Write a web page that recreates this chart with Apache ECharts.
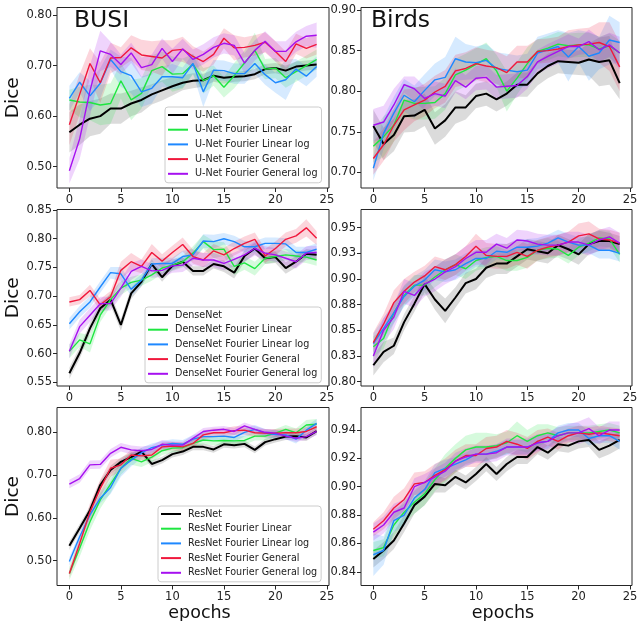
<!DOCTYPE html>
<html>
<head>
<meta charset="utf-8">
<script src="https://cdn.jsdelivr.net/npm/echarts@6/dist/echarts.min.js"></script>
<style>
  html, body { margin: 0; padding: 0; background: #ffffff; }
  #chart { width: 638px; height: 621px; }
</style>
</head>
<body>
<div id="chart"></div>
<script>
// ---- training curves: mean Dice per epoch and the spread (half-width) of each band ----
const epochs = [0,1,2,3,4,5,6,7,8,9,10,11,12,13,14,15,16,17,18,19,20,21,22,23,24];

// BUSI / U-Net
const busiUNet       = [0.568,0.583,0.595,0.600,0.615,0.615,0.625,0.632,0.643,0.651,0.659,0.666,0.670,0.671,0.680,0.676,0.678,0.679,0.683,0.693,0.695,0.690,0.698,0.700,0.702];
const busiUNetLin    = [0.632,0.628,0.627,0.622,0.625,0.670,0.632,0.645,0.690,0.698,0.683,0.684,0.703,0.670,0.680,0.657,0.680,0.705,0.730,0.693,0.695,0.676,0.688,0.700,0.712];
const busiUNetLinLog = [0.635,0.667,0.640,0.665,0.712,0.688,0.680,0.648,0.655,0.678,0.678,0.676,0.704,0.648,0.691,0.690,0.684,0.684,0.704,0.682,0.666,0.672,0.693,0.679,0.698];
const busiUNetGen    = [0.583,0.643,0.704,0.666,0.715,0.716,0.735,0.721,0.718,0.715,0.730,0.732,0.718,0.708,0.722,0.754,0.735,0.736,0.740,0.746,0.728,0.708,0.743,0.734,0.742];
const busiUNetGenLog = [0.492,0.555,0.650,0.729,0.722,0.702,0.725,0.696,0.702,0.734,0.708,0.733,0.712,0.722,0.736,0.744,0.740,0.705,0.730,0.748,0.728,0.728,0.747,0.758,0.760];
const busiUNetSd       = [0.040,0.040,0.035,0.035,0.030,0.030,0.025,0.025,0.020,0.020,0.018,0.015,0.015,0.013,0.012,0.012,0.010,0.010,0.010,0.010,0.010,0.010,0.010,0.010,0.010];
const busiUNetLinSd    = [0.020,0.030,0.035,0.040,0.040,0.035,0.040,0.030,0.030,0.030,0.035,0.030,0.020,0.025,0.020,0.020,0.025,0.025,0.035,0.020,0.020,0.020,0.020,0.020,0.020];
const busiUNetLinLogSd = [0.025,0.020,0.030,0.030,0.020,0.030,0.035,0.030,0.030,0.020,0.025,0.020,0.020,0.030,0.020,0.020,0.020,0.020,0.020,0.020,0.020,0.040,0.020,0.020,0.020];
const busiUNetGenSd    = [0.040,0.040,0.030,0.040,0.030,0.020,0.025,0.030,0.030,0.035,0.020,0.025,0.020,0.020,0.020,0.020,0.025,0.020,0.020,0.020,0.020,0.020,0.020,0.020,0.020];
const busiUNetGenLogSd = [0.025,0.040,0.050,0.040,0.025,0.020,0.020,0.020,0.020,0.020,0.025,0.020,0.020,0.020,0.020,0.020,0.020,0.020,0.020,0.020,0.020,0.020,0.020,0.020,0.025];

// Birds / U-Net
const birdsUNet       = [0.757,0.735,0.746,0.769,0.770,0.777,0.754,0.764,0.780,0.780,0.794,0.797,0.790,0.797,0.808,0.808,0.822,0.831,0.837,0.836,0.835,0.839,0.836,0.838,0.810];
const birdsUNetLin    = [0.732,0.744,0.758,0.789,0.785,0.785,0.786,0.797,0.820,0.826,0.833,0.840,0.825,0.800,0.816,0.834,0.849,0.853,0.858,0.856,0.857,0.857,0.852,0.856,0.847];
const birdsUNetLinLog = [0.705,0.748,0.773,0.795,0.787,0.801,0.814,0.817,0.840,0.836,0.835,0.838,0.828,0.826,0.824,0.826,0.847,0.851,0.855,0.842,0.855,0.843,0.847,0.863,0.860];
const birdsUNetGen    = [0.717,0.734,0.758,0.777,0.783,0.789,0.799,0.806,0.825,0.828,0.834,0.831,0.829,0.823,0.836,0.836,0.849,0.850,0.852,0.855,0.857,0.858,0.860,0.855,0.830];
const birdsUNetGenLog = [0.758,0.762,0.783,0.808,0.803,0.791,0.797,0.794,0.813,0.805,0.816,0.817,0.805,0.806,0.807,0.818,0.836,0.843,0.849,0.855,0.855,0.861,0.851,0.857,0.847];
const birdsUNetSd       = [0.020,0.020,0.020,0.020,0.020,0.020,0.020,0.020,0.020,0.015,0.015,0.015,0.015,0.015,0.015,0.015,0.015,0.015,0.015,0.015,0.015,0.020,0.030,0.030,0.020];
const birdsUNetLinSd    = [0.020,0.025,0.020,0.020,0.020,0.020,0.020,0.020,0.020,0.020,0.020,0.020,0.020,0.025,0.020,0.020,0.015,0.015,0.015,0.015,0.015,0.015,0.015,0.015,0.015];
const birdsUNetLinLogSd = [0.015,0.020,0.020,0.020,0.020,0.020,0.020,0.025,0.027,0.022,0.020,0.020,0.020,0.020,0.020,0.020,0.020,0.020,0.020,0.030,0.020,0.030,0.020,0.030,0.025];
const birdsUNetGenSd    = [0.020,0.020,0.020,0.025,0.020,0.020,0.020,0.020,0.020,0.020,0.020,0.020,0.020,0.020,0.020,0.020,0.015,0.015,0.015,0.020,0.020,0.020,0.025,0.030,0.030];
const birdsUNetGenLogSd = [0.020,0.020,0.020,0.010,0.015,0.015,0.015,0.015,0.015,0.015,0.015,0.015,0.015,0.015,0.015,0.015,0.015,0.015,0.015,0.015,0.010,0.015,0.015,0.015,0.020];

// BUSI / DenseNet
const busiDense       = [0.566,0.601,0.644,0.679,0.694,0.650,0.705,0.725,0.756,0.733,0.753,0.760,0.744,0.744,0.756,0.752,0.741,0.770,0.783,0.766,0.768,0.749,0.760,0.774,0.772];
const busiDenseLin    = [0.604,0.624,0.617,0.667,0.694,0.714,0.724,0.728,0.737,0.749,0.754,0.760,0.775,0.795,0.781,0.782,0.752,0.758,0.748,0.766,0.769,0.772,0.770,0.768,0.763];
const busiDenseLinLog = [0.652,0.673,0.690,0.716,0.741,0.739,0.712,0.728,0.756,0.757,0.757,0.769,0.772,0.796,0.795,0.800,0.795,0.786,0.786,0.792,0.792,0.791,0.776,0.776,0.782];
const busiDenseGen    = [0.690,0.694,0.710,0.685,0.699,0.745,0.760,0.752,0.776,0.761,0.776,0.790,0.769,0.763,0.779,0.772,0.783,0.792,0.799,0.770,0.783,0.799,0.805,0.819,0.801];
const busiDenseGenLog = [0.604,0.647,0.667,0.687,0.687,0.714,0.743,0.752,0.744,0.745,0.753,0.754,0.766,0.763,0.763,0.757,0.764,0.772,0.783,0.775,0.772,0.766,0.760,0.775,0.776];
const busiDenseSd       = [0.010,0.010,0.010,0.010,0.010,0.010,0.010,0.008,0.008,0.008,0.008,0.008,0.008,0.008,0.008,0.010,0.010,0.010,0.010,0.010,0.010,0.010,0.010,0.008,0.008];
const busiDenseLinSd    = [0.012,0.012,0.015,0.012,0.012,0.012,0.010,0.010,0.010,0.010,0.010,0.010,0.012,0.012,0.015,0.012,0.015,0.012,0.012,0.010,0.010,0.010,0.010,0.010,0.010];
const busiDenseLinLogSd = [0.010,0.010,0.010,0.010,0.010,0.012,0.012,0.010,0.010,0.010,0.010,0.010,0.010,0.012,0.012,0.010,0.010,0.010,0.010,0.010,0.010,0.010,0.010,0.010,0.010];
const busiDenseGenSd    = [0.008,0.008,0.010,0.010,0.010,0.015,0.015,0.012,0.015,0.012,0.012,0.012,0.012,0.012,0.012,0.012,0.012,0.012,0.012,0.012,0.012,0.012,0.012,0.015,0.012];
const busiDenseGenLogSd = [0.012,0.012,0.012,0.012,0.012,0.015,0.015,0.012,0.012,0.012,0.012,0.012,0.012,0.012,0.012,0.012,0.012,0.012,0.012,0.012,0.012,0.012,0.012,0.012,0.012];

// Birds / DenseNet
const birdsDense       = [0.816,0.829,0.835,0.858,0.876,0.895,0.880,0.869,0.882,0.896,0.900,0.911,0.915,0.915,0.922,0.929,0.927,0.925,0.933,0.929,0.924,0.934,0.937,0.937,0.934];
const birdsDenseLin    = [0.834,0.842,0.867,0.884,0.894,0.894,0.902,0.909,0.914,0.910,0.918,0.921,0.922,0.918,0.918,0.921,0.928,0.930,0.929,0.923,0.931,0.935,0.940,0.939,0.924];
const birdsDenseLinLog = [0.837,0.852,0.867,0.883,0.893,0.899,0.909,0.907,0.909,0.915,0.920,0.920,0.927,0.926,0.931,0.931,0.932,0.935,0.940,0.936,0.933,0.933,0.928,0.928,0.925];
const birdsDenseGen    = [0.838,0.856,0.877,0.888,0.897,0.903,0.912,0.909,0.914,0.922,0.932,0.923,0.922,0.922,0.926,0.922,0.928,0.931,0.933,0.936,0.942,0.944,0.939,0.938,0.935];
const birdsDenseGenLog = [0.825,0.850,0.863,0.888,0.884,0.895,0.900,0.907,0.912,0.920,0.926,0.926,0.934,0.930,0.938,0.937,0.934,0.933,0.933,0.936,0.936,0.933,0.938,0.941,0.935];
const birdsDenseSd       = [0.010,0.010,0.008,0.008,0.008,0.008,0.010,0.012,0.010,0.010,0.010,0.010,0.010,0.010,0.010,0.010,0.010,0.010,0.010,0.010,0.010,0.010,0.010,0.008,0.008];
const birdsDenseLinSd    = [0.010,0.010,0.010,0.010,0.010,0.010,0.010,0.010,0.010,0.010,0.010,0.010,0.010,0.010,0.010,0.010,0.010,0.010,0.008,0.008,0.008,0.008,0.008,0.008,0.008];
const birdsDenseLinLogSd = [0.010,0.010,0.010,0.010,0.010,0.010,0.010,0.010,0.010,0.010,0.008,0.008,0.008,0.008,0.008,0.008,0.008,0.008,0.008,0.008,0.008,0.008,0.008,0.008,0.008];
const birdsDenseGenSd    = [0.010,0.010,0.012,0.012,0.010,0.010,0.010,0.010,0.010,0.010,0.012,0.012,0.012,0.012,0.012,0.012,0.010,0.010,0.010,0.010,0.012,0.012,0.010,0.010,0.010];
const birdsDenseGenLogSd = [0.012,0.012,0.012,0.012,0.012,0.012,0.012,0.012,0.012,0.012,0.012,0.012,0.010,0.010,0.010,0.010,0.010,0.010,0.010,0.010,0.010,0.010,0.010,0.010,0.010];

// BUSI / ResNet
const busiRes       = [0.535,0.576,0.618,0.677,0.712,0.731,0.742,0.755,0.726,0.735,0.749,0.755,0.766,0.766,0.760,0.772,0.770,0.773,0.759,0.777,0.784,0.790,0.791,0.788,0.803];
const busiResLin    = [0.470,0.529,0.591,0.642,0.679,0.716,0.739,0.731,0.742,0.757,0.763,0.764,0.774,0.782,0.780,0.781,0.780,0.781,0.791,0.791,0.798,0.807,0.799,0.817,0.819];
const busiResLinLog = [0.498,0.556,0.607,0.646,0.671,0.716,0.735,0.752,0.764,0.770,0.774,0.772,0.784,0.790,0.790,0.791,0.788,0.800,0.807,0.798,0.795,0.794,0.784,0.805,0.821];
const busiResGen    = [0.470,0.540,0.614,0.669,0.716,0.724,0.747,0.745,0.747,0.766,0.768,0.766,0.774,0.794,0.799,0.799,0.804,0.805,0.799,0.798,0.798,0.799,0.799,0.802,0.813];
const busiResGenLog = [0.679,0.692,0.724,0.725,0.751,0.765,0.759,0.757,0.760,0.772,0.770,0.770,0.786,0.802,0.805,0.807,0.802,0.815,0.807,0.800,0.798,0.791,0.786,0.790,0.802];
const busiResSd       = [0.010,0.010,0.010,0.010,0.010,0.010,0.010,0.008,0.008,0.008,0.008,0.008,0.008,0.008,0.008,0.008,0.008,0.008,0.008,0.008,0.008,0.008,0.008,0.008,0.008];
const busiResLinSd    = [0.015,0.020,0.020,0.020,0.020,0.015,0.015,0.012,0.012,0.010,0.010,0.010,0.010,0.010,0.010,0.010,0.010,0.010,0.010,0.010,0.010,0.010,0.010,0.012,0.012];
const busiResLinLogSd = [0.010,0.010,0.010,0.012,0.015,0.020,0.015,0.012,0.010,0.010,0.010,0.010,0.010,0.010,0.010,0.010,0.010,0.010,0.010,0.010,0.010,0.010,0.010,0.010,0.010];
const busiResGenSd    = [0.010,0.015,0.020,0.020,0.020,0.015,0.012,0.010,0.010,0.010,0.010,0.010,0.010,0.010,0.010,0.010,0.010,0.010,0.010,0.010,0.010,0.010,0.010,0.010,0.010];
const busiResGenLogSd = [0.010,0.010,0.010,0.010,0.010,0.010,0.010,0.010,0.010,0.010,0.008,0.008,0.008,0.008,0.008,0.008,0.008,0.008,0.008,0.008,0.008,0.008,0.008,0.008,0.008];

// Birds / ResNet
const birdsRes       = [0.849,0.855,0.862,0.874,0.887,0.893,0.902,0.901,0.907,0.903,0.909,0.916,0.909,0.916,0.921,0.921,0.928,0.924,0.930,0.929,0.932,0.933,0.926,0.929,0.933];
const birdsResLin    = [0.855,0.857,0.873,0.882,0.889,0.895,0.905,0.913,0.920,0.926,0.928,0.928,0.929,0.931,0.936,0.932,0.936,0.938,0.936,0.938,0.938,0.938,0.939,0.940,0.938];
const birdsResLinLog = [0.852,0.855,0.876,0.880,0.892,0.898,0.910,0.913,0.916,0.919,0.923,0.923,0.925,0.928,0.928,0.928,0.931,0.932,0.938,0.940,0.940,0.934,0.936,0.936,0.932];
const birdsResGen    = [0.870,0.876,0.885,0.891,0.902,0.903,0.908,0.912,0.918,0.922,0.922,0.927,0.928,0.932,0.930,0.927,0.932,0.935,0.932,0.936,0.938,0.937,0.938,0.937,0.936];
const birdsResGenLog = [0.868,0.873,0.882,0.885,0.900,0.903,0.907,0.911,0.918,0.921,0.923,0.923,0.924,0.928,0.928,0.928,0.931,0.932,0.936,0.938,0.938,0.941,0.936,0.940,0.940];
const birdsResSd       = [0.006,0.006,0.006,0.006,0.006,0.006,0.006,0.005,0.005,0.005,0.005,0.005,0.005,0.005,0.005,0.005,0.005,0.005,0.005,0.005,0.005,0.005,0.006,0.006,0.006];
const birdsResLinSd    = [0.006,0.006,0.008,0.008,0.008,0.008,0.008,0.010,0.010,0.010,0.010,0.010,0.008,0.008,0.010,0.008,0.008,0.006,0.006,0.005,0.005,0.005,0.005,0.005,0.005];
const birdsResLinLogSd = [0.015,0.010,0.008,0.008,0.006,0.006,0.006,0.006,0.005,0.005,0.005,0.005,0.005,0.005,0.005,0.005,0.005,0.005,0.005,0.005,0.005,0.005,0.005,0.005,0.006];
const birdsResGenSd    = [0.005,0.006,0.008,0.008,0.008,0.008,0.008,0.008,0.008,0.008,0.008,0.008,0.008,0.008,0.008,0.008,0.008,0.006,0.006,0.005,0.005,0.005,0.005,0.005,0.005];
const birdsResGenLogSd = [0.006,0.006,0.006,0.006,0.006,0.006,0.006,0.006,0.006,0.006,0.006,0.006,0.006,0.006,0.006,0.006,0.006,0.006,0.006,0.006,0.008,0.008,0.006,0.006,0.006];

// legend names
const unetNames  = ['U-Net', 'U-Net Fourier Linear', 'U-Net Fourier Linear log', 'U-Net Fourier General', 'U-Net Fourier General log'];
const denseNames = ['DenseNet', 'DenseNet Fourier Linear', 'DenseNet Fourier Linear log', 'DenseNet Fourier General', 'DenseNet Fourier General log'];
const resNames   = ['ResNet', 'ResNet Fourier Linear', 'ResNet Fourier Linear log', 'ResNet Fourier General', 'ResNet Fourier General log'];

// axis ticks
const xTicks = [0, 5, 10, 15, 20, 25];
const busiUNetTicks   = [0.50, 0.60, 0.70, 0.80];
const birdsUNetTicks  = [0.70, 0.75, 0.80, 0.85, 0.90];
const busiDenseTicks  = [0.55, 0.60, 0.65, 0.70, 0.75, 0.80, 0.85];
const birdsDenseTicks = [0.800, 0.825, 0.850, 0.875, 0.900, 0.925, 0.950];
const birdsDenseTickLabels = ['0.80', '0.83', '0.85', '0.88', '0.90', '0.93', '0.95'];
const busiResTicks    = [0.50, 0.60, 0.70, 0.80];
const birdsResTicks   = [0.84, 0.86, 0.88, 0.90, 0.92, 0.94];

// ---- layout / style ----
const lineColors = ['#000000', '#1ee640', '#1e88ff', '#f0183c', '#a610f0'];
const lineWidths = [2, 1.4, 1.4, 1.4, 1.4];
const bandOpacity = [0.14, 0.18, 0.18, 0.18, 0.18];
const colLeft = [57, 361], colWidth = [272, 271];
const rowTop = [7.5, 209.5, 407.5], rowHeight = [180.5, 176.5, 178];
const FONT = 'DejaVu Sans';

const panels = [
  { row: 0, col: 0, means: [busiUNet, busiUNetLin, busiUNetLinLog, busiUNetGen, busiUNetGenLog],
    sds: [busiUNetSd, busiUNetLinSd, busiUNetLinLogSd, busiUNetGenSd, busiUNetGenLogSd],
    names: unetNames, yMin: 0.4579, yMax: 0.8148, ticks: busiUNetTicks, title: 'BUSI',
    legend: { left: 165, top: 107 } },
  { row: 0, col: 1, means: [birdsUNet, birdsUNetLin, birdsUNetLinLog, birdsUNetGen, birdsUNetGenLog],
    sds: [birdsUNetSd, birdsUNetLinSd, birdsUNetLinLogSd, birdsUNetGenSd, birdsUNetGenLogSd],
    names: unetNames.map(n => n + ' (Birds)'), yMin: 0.6807, yMax: 0.9031, ticks: birdsUNetTicks, title: 'Birds' },
  { row: 1, col: 0, means: [busiDense, busiDenseLin, busiDenseLinLog, busiDenseGen, busiDenseGenLog],
    sds: [busiDenseSd, busiDenseLinSd, busiDenseLinLogSd, busiDenseGenSd, busiDenseGenLogSd],
    names: denseNames, yMin: 0.5437, yMax: 0.8509, ticks: busiDenseTicks,
    legend: { left: 145, top: 307 } },
  { row: 1, col: 1, means: [birdsDense, birdsDenseLin, birdsDenseLinLog, birdsDenseGen, birdsDenseGenLog],
    sds: [birdsDenseSd, birdsDenseLinSd, birdsDenseLinLogSd, birdsDenseGenSd, birdsDenseGenLogSd],
    names: denseNames.map(n => n + ' (Birds)'), yMin: 0.7958, yMax: 0.9677, ticks: birdsDenseTicks,
    tickLabels: birdsDenseTickLabels },
  { row: 2, col: 0, means: [busiRes, busiResLin, busiResLinLog, busiResGen, busiResGenLog],
    sds: [busiResSd, busiResLinSd, busiResLinLogSd, busiResGenSd, busiResGenLogSd],
    names: resNames, yMin: 0.442, yMax: 0.858, ticks: busiResTicks,
    legend: { left: 158, top: 506 } },
  { row: 2, col: 1, means: [birdsRes, birdsResLin, birdsResLinLog, birdsResGen, birdsResGenLog],
    sds: [birdsResSd, birdsResLinSd, birdsResLinLogSd, birdsResGenSd, birdsResGenLogSd],
    names: resNames.map(n => n + ' (Birds)'), yMin: 0.8303, yMax: 0.9559, ticks: birdsResTicks }
];

const grids = [], xAxes = [], yAxes = [], series = [], legends = [], titles = [];

panels.forEach((p, gi) => {
  grids.push({
    left: colLeft[p.col], top: rowTop[p.row], width: colWidth[p.col], height: rowHeight[p.row],
    show: true, borderColor: '#262626', borderWidth: 1, backgroundColor: 'transparent',
    outerBoundsMode: 'none', containLabel: false
  });
  xAxes.push({
    type: 'value', gridIndex: gi, min: -1.2, max: 25.2,
    axisLine: { show: false, onZero: false },
    axisTick: { show: true, length: 4, lineStyle: { color: '#262626' }, customValues: xTicks },
    axisLabel: { show: true, margin: 6, color: '#222', fontFamily: FONT, fontSize: 11.5, customValues: xTicks },
    splitLine: { show: false },
    name: p.row === 2 ? 'epochs' : '', nameLocation: 'middle', nameGap: 14,
    nameTextStyle: { fontFamily: FONT, fontSize: 17.5, color: '#111', padding: [0, 0, 0, 13], verticalAlign: 'top' }
  });
  const tl = p.tickLabels;
  yAxes.push({
    type: 'value', gridIndex: gi, min: p.yMin, max: p.yMax, scale: true,
    axisLine: { show: false, onZero: false },
    axisTick: { show: true, length: 4, lineStyle: { color: '#262626' }, customValues: p.ticks },
    axisLabel: {
      show: true, margin: 5, color: '#222', fontFamily: FONT, fontSize: 11.5, customValues: p.ticks,
      formatter: v => {
        if (tl) {
          let best = 0;
          p.ticks.forEach((t, i) => { if (Math.abs(t - v) < Math.abs(p.ticks[best] - v)) best = i; });
          return tl[best];
        }
        return v.toFixed(2);
      }
    },
    splitLine: { show: false },
    name: p.col === 0 ? 'Dice' : '', nameLocation: 'middle', nameGap: 33,
    nameTextStyle: { fontFamily: FONT, fontSize: 18.5, color: '#111' }
  });

  // shaded spread bands, drawn as one polygon per curve in data coordinates
  p.means.forEach((m, si) => {
    const sd = p.sds[si];
    const bandData = epochs.map((e, i) => [e, m[i] - sd[i], m[i] + sd[i]]);
    series.push({
      type: 'custom', name: p.names[si] + ' band', xAxisIndex: gi, yAxisIndex: gi,
      data: bandData, encode: { x: 0, y: [1, 2] }, z: 1, silent: true,
      renderItem: (params, api) => {
        if (params.dataIndex !== 0) return null;
        const pts = [];
        for (let i = 0; i < bandData.length; i++) pts.push(api.coord([bandData[i][0], bandData[i][1]]));
        for (let i = bandData.length - 1; i >= 0; i--) pts.push(api.coord([bandData[i][0], bandData[i][2]]));
        return {
          type: 'polygon', shape: { points: pts },
          style: { fill: lineColors[si], opacity: bandOpacity[si] }
        };
      }
    });
  });

  // mean curves
  p.means.forEach((m, si) => {
    series.push({
      type: 'line', name: p.names[si], xAxisIndex: gi, yAxisIndex: gi,
      data: epochs.map((e, i) => [e, m[i]]),
      showSymbol: false, symbol: 'none', z: 3, silent: true,
      color: lineColors[si],
      lineStyle: { color: lineColors[si], width: lineWidths[si] },
      itemStyle: { color: lineColors[si] }
    });
  });

  if (p.legend) {
    legends.push({
      show: true, orient: 'vertical', left: p.legend.left, top: p.legend.top,
      data: p.names, icon: 'rect', itemWidth: 20, itemHeight: 2, itemGap: 2.7,
      padding: [2, 4, 3, 3], backgroundColor: 'rgba(255,255,255,0.85)',
      borderColor: '#cccccc', borderWidth: 1, borderRadius: 3,
      selectedMode: false,
      textStyle: { fontFamily: FONT, fontSize: 9.6, color: '#222', lineHeight: 12, padding: [0, 0, 0, 2] }
    });
  }
  if (p.title) {
    titles.push({
      text: p.title, left: colLeft[p.col] + (p.col === 0 ? 17 : 10), top: 9,
      textStyle: { fontFamily: FONT, fontSize: 23.5, fontWeight: 'normal', color: '#111' }, padding: 0
    });
  }
});

const chart = echarts.init(document.getElementById('chart'), null, { renderer: 'canvas' });
chart.setOption({
  animation: false,
  backgroundColor: '#ffffff',
  title: titles,
  grid: grids,
  xAxis: xAxes,
  yAxis: yAxes,
  legend: legends,
  tooltip: { show: false },
  series: series
});
</script>
</body>
</html>
